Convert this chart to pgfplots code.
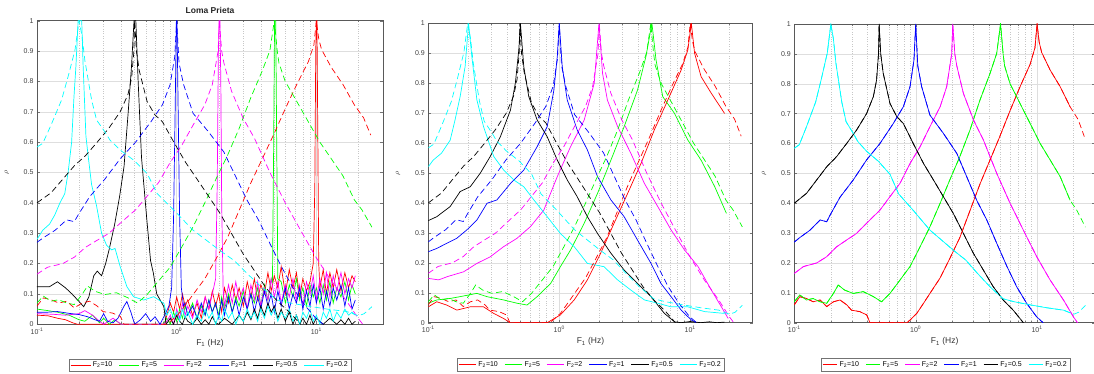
\documentclass[border=0pt]{standalone}
\usepackage{fontspec}
\setmainfont{Liberation Sans}
\usepackage{pgfplots}
\usepackage{pgfplotstable}
\pgfplotsset{compat=1.18}
\definecolor{mred}{rgb}{1,0,0}
\definecolor{mgreen}{rgb}{0,1,0}
\definecolor{mmag}{rgb}{1,0,1}
\definecolor{mblue}{rgb}{0,0,1}
\definecolor{mblack}{rgb}{0,0,0}
\definecolor{mcyan}{rgb}{0,1,1}

% ---------- shared dashed curves (d) ; s = solid of panel 3 ----------
\pgfplotstableread[row sep=\\]{F d s\\
0.100 0.060 0.060\\0.111 0.087 0.087\\0.126 0.081 0.081\\0.143 0.070 0.070\\0.163 0.076 0.076\\0.185 0.054 0.054\\0.210 0.070 0.070\\0.238 0.076 0.076\\0.270 0.060 0.060\\0.296 0.042 0.042\\0.347 0.037 0.037\\0.395 0.026 0.026\\0.420 0 0\\0.850 0 0\\0.898 0.009 0.009\\1.02 0.031 0.031\\1.16 0.065 0.065\\1.31 0.098 0.098\\1.59 0.150 0.150\\1.91 0.215 0.215\\2.31 0.285 0.285\\2.80 0.375 0.375\\3.39 0.465 0.465\\4.10 0.545 0.545\\4.95 0.625 0.625\\5.99 0.710 0.710\\7.24 0.790 0.790\\8.76 0.865 0.865\\9.60 0.920 0.920\\10.0 1.000 1.000\\10.4 0.940 0.940\\10.9 0.905 0.905\\12.8 0.846 0.846\\15.5 0.790 0.790\\18.7 0.723 0.723\\21.8 0.680 nan\\24.5 0.623 nan\\}\tabdashred
\pgfplotstableread[row sep=\\]{F d s\\
0.100 0.070 0.070\\0.111 0.093 0.093\\0.126 0.076 0.076\\0.143 0.081 0.081\\0.163 0.070 0.070\\0.185 0.065 0.065\\0.210 0.098 0.098\\0.230 0.126 0.126\\0.260 0.109 0.109\\0.306 0.098 0.098\\0.370 0.104 0.104\\0.449 0.087 0.087\\0.524 0.070 0.070\\0.614 0.098 0.098\\0.743 0.143 0.143\\0.898 0.188 0.188\\1.086 0.254 0.254\\1.31 0.321 0.321\\1.59 0.400 0.400\\1.91 0.478 0.478\\2.31 0.556 0.556\\2.80 0.645 0.645\\3.39 0.746 0.746\\4.10 0.835 0.835\\4.65 0.902 0.902\\5.00 1.000 1.000\\5.25 0.900 0.900\\5.40 0.860 0.860\\5.99 0.800 0.800\\7.24 0.734 0.734\\8.76 0.667 0.667\\10.6 0.600 0.600\\12.8 0.545 0.545\\15.5 0.489 0.489\\18.7 0.410 0.410\\21.2 0.377 nan\\25.0 0.320 nan\\}\tabdashgreen
\pgfplotstableread[row sep=\\]{F d\\
0.100 0.165\\0.119 0.188\\0.153 0.200\\0.185 0.221\\0.223 0.254\\0.270 0.277\\0.326 0.299\\0.420 0.344\\0.508 0.377\\0.614 0.422\\0.743 0.467\\0.898 0.533\\1.086 0.589\\1.31 0.656\\1.59 0.723\\1.80 0.790\\1.98 0.900\\2.02 1.000\\2.10 0.900\\2.18 0.860\\2.47 0.768\\2.99 0.679\\3.61 0.612\\4.65 0.500\\5.99 0.400\\7.71 0.310\\9.93 0.221\\12.8 0.143\\16.5 0.076\\19.9 0.020\\21.5 0.000\\}\tabdashmag
\pgfplotstableread[row sep=\\]{F d\\
0.100 0.270\\0.111 0.285\\0.135 0.310\\0.163 0.344\\0.185 0.338\\0.197 0.360\\0.238 0.420\\0.306 0.478\\0.394 0.545\\0.508 0.600\\0.654 0.667\\0.791 0.723\\0.898 0.790\\0.968 0.880\\1.000 1.000\\1.040 0.860\\1.12 0.790\\1.31 0.695\\1.69 0.634\\2.18 0.567\\2.63 0.489\\3.18 0.410\\3.85 0.344\\4.65 0.266\\5.62 0.190\\6.80 0.120\\8.20 0.065\\9.90 0.020\\11.2 0.000\\}\tabdashblue
\pgfplotstableread[row sep=\\]{F d\\
0.100 0.400\\0.126 0.433\\0.153 0.478\\0.185 0.522\\0.223 0.556\\0.270 0.600\\0.326 0.645\\0.394 0.700\\0.448 0.757\\0.476 0.812\\0.494 0.900\\0.500 1.000\\0.515 0.900\\0.540 0.835\\0.614 0.734\\0.698 0.690\\0.791 0.667\\0.954 0.600\\1.16 0.533\\1.40 0.478\\1.69 0.422\\2.04 0.366\\2.47 0.299\\2.99 0.232\\3.61 0.176\\4.36 0.120\\5.26 0.076\\6.35 0.042\\7.20 0.015\\7.70 0.000\\}\tabdashblack
\pgfplotstableread[row sep=\\]{F d s\\
0.100 0.584 0.584\\0.110 0.596 0.596\\0.126 0.656 0.656\\0.150 0.739 0.739\\0.167 0.816 0.816\\0.187 0.903 0.903\\0.200 1.000 1.000\\0.210 0.950 0.950\\0.220 0.870 0.870\\0.246 0.739 0.739\\0.267 0.673 0.673\\0.306 0.634 0.634\\0.333 0.607 0.607\\0.394 0.574 0.574\\0.491 0.541 0.541\\0.614 0.497 0.497\\0.724 0.431 0.431\\0.955 0.376 0.376\\1.31 0.310 0.310\\2.04 0.243 0.243\\2.58 0.210 0.210\\3.18 0.168 0.168\\4.10 0.120 0.120\\5.25 0.080 0.080\\6.50 0.070 0.070\\8.70 0.060 0.060\\12.0 0.050 0.050\\16.5 0.042 0.042\\19.0 0.032 0.032\\20.0 0.028 nan\\22.0 0.035 nan\\25.0 0.058 nan\\}\tabdashcyan

% ---------- panel 2 solid curves ----------
\pgfplotstableread[row sep=\\]{F y\\
0.1 0.053\\0.116 0.07\\0.138 0.059\\0.165 0.042\\0.209 0.053\\0.264 0.053\\0.316 0.031\\0.376 0.014\\0.411 0.003\\0.42 0\\0.809 0\\1.02 0.026\\1.30 0.076\\1.64 0.143\\2.07 0.232\\2.62 0.332\\3.33 0.432\\4.21 0.532\\5.32 0.644\\6.75 0.744\\8.53 0.844\\9.59 0.911\\10.2 1.0\\10.8 0.9\\12.1 0.822\\14.5 0.766\\18.3 0.699\\}\tabtwored
\pgfplotstableread[row sep=\\]{F y\\
0.1 0.065\\0.116 0.076\\0.147 0.081\\0.175 0.087\\0.235 0.098\\0.28 0.087\\0.376 0.076\\0.476 0.065\\0.568 0.059\\0.678 0.087\\0.859 0.131\\1.02 0.187\\1.22 0.243\\1.55 0.332\\1.96 0.432\\2.48 0.543\\3.13 0.655\\3.96 0.777\\4.59 0.889\\5.1 1.0\\5.48 0.878\\6.17 0.755\\7.59 0.699\\9.59 0.61\\12.1 0.543\\15.4 0.454\\18.9 0.365\\}\tabtwogreen
\pgfplotstableread[row sep=\\]{F y\\
0.1 0.148\\0.12 0.143\\0.14 0.154\\0.186 0.17\\0.235 0.198\\0.297 0.22\\0.376 0.254\\0.476 0.282\\0.603 0.321\\0.762 0.376\\0.966 0.488\\1.22 0.588\\1.55 0.677\\1.85 0.8\\2.01 1.0\\2.14 0.833\\2.33 0.744\\2.79 0.655\\3.52 0.566\\4.47 0.465\\5.65 0.388\\7.14 0.31\\9.05 0.243\\11.5 0.187\\14.5 0.109\\17.3 0.053\\19.5 0.014\\}\tabtwomag
\pgfplotstableread[row sep=\\]{F y\\
0.1 0.237\\0.116 0.248\\0.138 0.265\\0.165 0.282\\0.197 0.31\\0.235 0.343\\0.281 0.399\\0.334 0.41\\0.424 0.465\\0.536 0.51\\0.678 0.588\\0.809 0.655\\0.910 0.777\\0.966 0.889\\1.0 1.0\\1.054 0.855\\1.15 0.744\\1.37 0.644\\1.64 0.577\\1.96 0.488\\2.48 0.41\\3.13 0.354\\3.96 0.276\\5.02 0.198\\5.98 0.131\\7.14 0.087\\8.53 0.042\\10.2 0.009\\11.1 0\\}\tabtwoblue
\pgfplotstableread[row sep=\\]{F y\\
0.1 0.341\\0.116 0.354\\0.147 0.388\\0.175 0.438\\0.209 0.454\\0.249 0.499\\0.297 0.555\\0.355 0.621\\0.424 0.71\\0.462 0.80\\0.491 0.911\\0.505 1.0\\0.536 0.855\\0.585 0.755\\0.678 0.677\\0.809 0.621\\0.966 0.543\\1.15 0.477\\1.37 0.421\\1.64 0.354\\1.96 0.298\\2.48 0.232\\3.13 0.176\\3.96 0.131\\5.02 0.087\\6.35 0.031\\7.59 0.003\\8.5 0\\10 0.004\\12 0\\14 0.003\\16 0\\18.3 0.002\\}\tabtwoblack
\pgfplotstableread[row sep=\\]{F y\\
0.1 0.521\\0.109 0.543\\0.126 0.566\\0.147 0.61\\0.160 0.677\\0.175 0.755\\0.191 0.855\\0.203 1.0\\0.215 0.889\\0.235 0.744\\0.264 0.655\\0.316 0.555\\0.376 0.51\\0.449 0.477\\0.536 0.454\\0.64 0.41\\0.809 0.354\\1.02 0.298\\1.30 0.254\\1.64 0.198\\2.20 0.187\\2.79 0.143\\3.52 0.109\\4.47 0.076\\5.65 0.065\\7.14 0.053\\9.59 0.053\\12.9 0.037\\18.3 0.031\\}\tabtwocyan

% ---------- panel 1 solid curves ----------
\pgfplotstableread[row sep=\\]{F y\\
0.100 0.030\\0.120 0.028\\0.140 0.020\\0.160 0.015\\0.180 0.005\\0.195 0\\0.820 0\\0.850 0.030\\0.900 0.070\\0.950 0.040\\1.000 0.090\\1.050 0.050\\1.100 0.100\\1.150 0.060\\1.200 0.080\\1.300 0.030\\1.400 0.070\\1.500 0.020\\1.600 0.090\\1.700 0.050\\1.800 0.110\\1.900 0.060\\2.000 0.100\\2.100 0.040\\2.200 0.120\\2.350 0.070\\2.500 0.130\\2.650 0.080\\2.800 0.120\\3.000 0.060\\3.200 0.140\\3.400 0.090\\3.600 0.150\\3.800 0.080\\4.000 0.130\\4.250 0.100\\4.500 0.170\\4.750 0.110\\5.000 0.160\\5.300 0.120\\5.600 0.190\\6.000 0.100\\6.400 0.180\\6.800 0.120\\7.200 0.170\\7.600 0.090\\8.000 0.150\\8.500 0.110\\9.000 0.140\\9.500 0.200\\9.750 0.450\\9.900 0.900\\10.00 1.000\\10.10 1.000\\10.25 0.600\\10.40 0.200\\10.60 0.120\\11.20 0.180\\11.80 0.100\\12.50 0.170\\13.20 0.120\\14.00 0.180\\15.00 0.110\\16.00 0.170\\17.00 0.120\\18.00 0.160\\19.00 0.140\\}\tabonered
\pgfplotstableread[row sep=\\]{F y\\
0.100 0.050\\0.120 0.045\\0.140 0.040\\0.170 0.030\\0.200 0.015\\0.220 0.010\\0.250 0.030\\0.280 0.005\\0.300 0.020\\0.330 0\\0.360 0.015\\0.400 0\\0.800 0\\0.850 0.020\\0.900 0\\0.950 0.040\\1.000 0.010\\1.050 0.050\\1.100 0.020\\1.150 0.060\\1.200 0.030\\1.300 0.070\\1.400 0.020\\1.500 0.060\\1.600 0.030\\1.700 0.080\\1.800 0.040\\1.900 0.070\\2.000 0.030\\2.100 0.090\\2.200 0.050\\2.350 0.100\\2.500 0.040\\2.650 0.090\\2.800 0.060\\3.000 0.110\\3.200 0.050\\3.400 0.100\\3.600 0.070\\3.800 0.120\\4.000 0.060\\4.250 0.130\\4.500 0.080\\4.750 0.150\\4.850 0.140\\4.950 0.600\\5.020 1.000\\5.120 1.000\\5.200 0.600\\5.300 0.150\\5.600 0.140\\6.000 0.070\\6.400 0.130\\6.800 0.090\\7.200 0.150\\7.600 0.080\\8.000 0.120\\8.500 0.060\\9.000 0.130\\9.500 0.090\\10.00 0.120\\10.60 0.070\\11.20 0.130\\11.80 0.080\\12.50 0.140\\13.20 0.070\\14.00 0.120\\15.00 0.090\\16.00 0.140\\17.00 0.080\\18.00 0.130\\19.00 0.100\\}\tabonegreen
\pgfplotstableread[row sep=\\]{F y\\
0.100 0.035\\0.130 0.033\\0.160 0.030\\0.200 0.035\\0.220 0.045\\0.250 0.030\\0.280 0.010\\0.300 0\\0.350 0.020\\0.400 0\\0.800 0\\0.850 0.010\\0.900 0.030\\0.950 0\\1.000 0.050\\1.050 0.020\\1.100 0.070\\1.150 0.030\\1.200 0.060\\1.300 0.020\\1.400 0.080\\1.500 0.040\\1.600 0.090\\1.700 0.050\\1.800 0.100\\1.900 0.150\\1.950 0.450\\1.990 0.900\\2.010 1.000\\2.040 1.000\\2.070 0.800\\2.100 0.400\\2.150 0.120\\2.200 0.060\\2.350 0.130\\2.500 0.070\\2.650 0.140\\2.800 0.080\\3.000 0.120\\3.200 0.050\\3.400 0.130\\3.600 0.080\\3.800 0.140\\4.000 0.060\\4.250 0.120\\4.500 0.080\\4.750 0.150\\5.000 0.090\\5.300 0.140\\5.600 0.070\\6.000 0.130\\6.400 0.090\\6.800 0.150\\7.200 0.080\\7.600 0.130\\8.000 0.060\\8.500 0.140\\9.000 0.100\\9.500 0.160\\10.00 0.080\\10.60 0.150\\11.20 0.100\\11.80 0.170\\12.50 0.090\\13.20 0.160\\14.00 0.110\\15.00 0.170\\16.00 0.100\\17.00 0.150\\18.00 0.120\\19.00 0.160\\}\tabonemag
\pgfplotstableread[row sep=\\]{F y\\
0.100 0.040\\0.120 0.040\\0.140 0.042\\0.170 0.036\\0.200 0.032\\0.230 0.025\\0.260 0.015\\0.280 0.010\\0.300 0.035\\0.320 0.010\\0.350 0.005\\0.380 0.020\\0.420 0.060\\0.440 0.075\\0.470 0.040\\0.500 0\\0.550 0.015\\0.600 0.035\\0.650 0.010\\0.700 0.025\\0.760 0\\0.820 0.030\\0.880 0.060\\0.920 0.120\\0.950 0.350\\0.975 0.700\\0.995 1.000\\1.005 1.000\\1.025 0.700\\1.050 0.350\\1.080 0.120\\1.120 0.060\\1.150 0.070\\1.200 0.030\\1.300 0.060\\1.400 0.020\\1.500 0.070\\1.600 0.030\\1.700 0.080\\1.800 0.040\\1.900 0.070\\2.000 0.020\\2.100 0.080\\2.200 0.030\\2.350 0.090\\2.500 0.040\\2.650 0.080\\2.800 0.030\\3.000 0.090\\3.200 0.050\\3.400 0.100\\3.600 0.040\\3.800 0.090\\4.000 0.050\\4.250 0.110\\4.500 0.060\\4.750 0.100\\5.000 0.040\\5.300 0.110\\5.600 0.060\\6.000 0.120\\6.400 0.050\\6.800 0.100\\7.200 0.070\\7.600 0.120\\8.000 0.050\\8.500 0.110\\9.000 0.060\\9.500 0.130\\10.00 0.070\\10.60 0.120\\11.20 0.050\\11.80 0.110\\12.50 0.060\\13.20 0.120\\14.00 0.080\\15.00 0.130\\16.00 0.060\\17.00 0.120\\18.00 0.050\\19.00 0.080\\}\taboneblue
\pgfplotstableread[row sep=\\]{F y\\
0.100 0.124\\0.123 0.124\\0.140 0.140\\0.160 0.120\\0.178 0.100\\0.200 0.075\\0.216 0.058\\0.235 0.090\\0.255 0.160\\0.270 0.175\\0.290 0.160\\0.310 0.200\\0.330 0.250\\0.360 0.330\\0.390 0.420\\0.420 0.520\\0.450 0.700\\0.475 0.850\\0.495 1.000\\0.510 1.000\\0.530 0.800\\0.560 0.550\\0.610 0.350\\0.650 0.210\\0.680 0.170\\0.720 0.100\\0.810 0.058\\0.840 0\\0.900 0.020\\0.950 0\\1.000 0.030\\1.050 0.010\\1.100 0\\1.150 0.025\\1.200 0.010\\1.300 0\\1.400 0.020\\1.500 0\\1.600 0.015\\1.700 0\\1.800 0.025\\1.900 0.005\\2.000 0\\2.200 0.020\\2.500 0\\2.800 0.030\\3.000 0.010\\3.200 0.040\\3.400 0.015\\3.600 0.050\\3.800 0.020\\4.000 0.060\\4.250 0.030\\4.500 0.070\\4.750 0.040\\5.000 0.060\\5.300 0.020\\5.600 0.050\\6.000 0.010\\6.400 0.040\\6.800 0\\7.200 0.030\\7.600 0\\8.000 0.020\\8.500 0\\9.000 0.030\\9.500 0\\10.00 0.020\\11.20 0\\12.50 0.020\\14.00 0\\15.00 0.015\\16.00 0\\17.00 0.020\\18.00 0\\19.00 0.010\\}\taboneblack
\pgfplotstableread[row sep=\\]{F y\\
0.100 0.280\\0.110 0.310\\0.123 0.330\\0.134 0.360\\0.146 0.400\\0.158 0.430\\0.167 0.500\\0.177 0.600\\0.184 0.750\\0.190 0.850\\0.197 1.000\\0.209 1.000\\0.214 0.850\\0.224 0.620\\0.233 0.550\\0.246 0.460\\0.267 0.390\\0.290 0.300\\0.315 0.260\\0.343 0.245\\0.362 0.250\\0.394 0.190\\0.440 0.124\\0.491 0.091\\0.580 0.080\\0.685 0.091\\0.810 0.069\\0.850 0.030\\0.900 0.050\\0.950 0.020\\1.000 0.040\\1.050 0.010\\1.100 0.050\\1.150 0.020\\1.200 0.040\\1.300 0\\1.400 0.030\\1.500 0.010\\1.600 0.050\\1.700 0.020\\1.800 0.040\\1.900 0\\2.000 0.030\\2.100 0.010\\2.200 0.050\\2.350 0.020\\2.500 0.040\\2.650 0\\2.800 0.030\\3.000 0.010\\3.200 0.050\\3.400 0.020\\3.600 0.040\\3.800 0.010\\4.000 0.050\\4.250 0.020\\4.500 0.060\\4.750 0.030\\5.000 0.050\\5.300 0.010\\5.600 0.040\\6.000 0.020\\6.400 0.050\\6.800 0.010\\7.200 0.030\\7.600 0\\8.000 0.040\\8.500 0.020\\9.000 0.050\\9.500 0.010\\10.00 0.030\\10.60 0\\11.20 0.040\\11.80 0.020\\12.50 0.050\\13.20 0.010\\14.00 0.040\\15.00 0.020\\16.00 0.050\\17.00 0.030\\18.00 0.040\\19.00 0.030\\}\tabonecyan

\pgfplotsset{
  myax/.style={
    scale only axis, xmin=0.1, xmax=30, ymin=0, ymax=1,
    xtick={0.1,1,10},
    xticklabels={10\textsuperscript{-1},10\textsuperscript{0},10\textsuperscript{1}},
    minor xtick={0.2,0.3,0.4,0.5,0.6,0.7,0.8,0.9,2,3,4,5,6,7,8,9,20},
    ytick={0,0.1,0.2,0.3,0.4,0.5,0.6,0.7,0.8,0.9,1},
    tick label style={font=\fontsize{7}{8}\selectfont, text=black!75},
    xlabel={F\textsubscript{1} (Hz)},
    ylabel={$\rho$},
    xlabel style={font=\fontsize{8.5}{10}\selectfont, text=black!80, yshift=2pt},
    ylabel style={font=\fontsize{7.5}{9}\selectfont, text=black!80, yshift=8pt},
    title style={font=\bfseries\fontsize{8.5}{10}\selectfont, text=black!85, yshift=-2pt},
    xmajorgrids, xminorgrids, ymajorgrids,
    major grid style={black!13, line width=0.4pt},
    minor grid style={black!22, dotted, line width=0.35pt},
    axis line style={black!65, line width=0.5pt},
    tick style={black!55, line width=0.35pt},
    major tick length=3pt, minor tick length=1.8pt,
    tick align=inside,
    legend columns=6,
    legend style={font=\fontsize{7}{8}\selectfont, draw=black!55, line width=0.4pt,
      inner sep=1pt, anchor=center, cells={anchor=west},
      /tikz/every even column/.append style={column sep=4.5pt}},
    every axis plot/.append style={line width=0.7pt},
  },
  legA/.style={legend image code/.code={\draw[##1] (0pt,0pt) -- (20pt,0pt);}},
  legB/.style={legend image code/.code={\draw[##1] (0pt,0pt) -- (17.5pt,0pt);}},
  legC/.style={legend image code/.code={\draw[##1] (0pt,0pt) -- (14.5pt,0pt);}},
  dsh/.style={dash pattern=on 6pt off 3.5pt, forget plot},
  sld/.style={forget plot},
}
\pgfkeys{/pgf/number format/assume math mode=true}

\begin{document}
\begin{tikzpicture}
\path[use as bounding box] (0,0) rectangle (1094pt,374pt);

% ================= Panel 1 =================
\begin{semilogxaxis}[myax, legA, at={(37pt,49.7pt)}, anchor=south west,
  width=346pt, height=303.6pt, title={Loma Prieta},
  legend style={at={(0.5,-0.134)}}]
\addlegendimage{mred, line width=0.7pt}
\addlegendimage{mgreen, line width=0.7pt}
\addlegendimage{mmag, line width=0.7pt}
\addlegendimage{mblue, line width=0.7pt}
\addlegendimage{mblack, line width=0.7pt}
\addlegendimage{mcyan, line width=0.7pt}
\addplot[mred,sld] table[x=F,y=y] {\tabonered};
\addplot[mgreen,sld] table[x=F,y=y] {\tabonegreen};
\addplot[mmag,sld] table[x=F,y=y] {\tabonemag};
\addplot[mblue,sld] table[x=F,y=y] {\taboneblue};
\addplot[mblack,sld] table[x=F,y=y] {\taboneblack};
\addplot[mcyan,sld] table[x=F,y=y] {\tabonecyan};
\addplot[mred,dsh] table[x=F,y=d] {\tabdashred};
\addplot[mgreen,dsh] table[x=F,y=d] {\tabdashgreen};
\addplot[mmag,dsh] table[x=F,y=d] {\tabdashmag};
\addplot[mblue,dsh] table[x=F,y=d] {\tabdashblue};
\addplot[mblack,dsh] table[x=F,y=d] {\tabdashblack};
\addplot[mcyan,dsh] table[x=F,y=d] {\tabdashcyan};
\legend{F\textsubscript{2}=10,F\textsubscript{2}=5,F\textsubscript{2}=2,F\textsubscript{2}=1,F\textsubscript{2}=0.5,F\textsubscript{2}=0.2}
\end{semilogxaxis}

% ================= Panel 2 =================
\begin{semilogxaxis}[myax, legB, at={(428.3pt,51.3pt)}, anchor=south west,
  width=324.4pt, height=299.4pt,
  legend style={at={(0.5,-0.14)}}]
\addlegendimage{mred, line width=0.7pt}
\addlegendimage{mgreen, line width=0.7pt}
\addlegendimage{mmag, line width=0.7pt}
\addlegendimage{mblue, line width=0.7pt}
\addlegendimage{mblack, line width=0.7pt}
\addlegendimage{mcyan, line width=0.7pt}
\addplot[mred,sld] table[x=F,y=y] {\tabtwored};
\addplot[mgreen,sld] table[x=F,y=y] {\tabtwogreen};
\addplot[mmag,sld] table[x=F,y=y] {\tabtwomag};
\addplot[mblue,sld] table[x=F,y=y] {\tabtwoblue};
\addplot[mblack,sld] table[x=F,y=y] {\tabtwoblack};
\addplot[mcyan,sld] table[x=F,y=y] {\tabtwocyan};
\addplot[mred,dsh] table[x=F,y=d] {\tabdashred};
\addplot[mgreen,dsh] table[x=F,y=d] {\tabdashgreen};
\addplot[mmag,dsh] table[x=F,y=d] {\tabdashmag};
\addplot[mblue,dsh] table[x=F,y=d] {\tabdashblue};
\addplot[mblack,dsh] table[x=F,y=d] {\tabdashblack};
\addplot[mcyan,dsh] table[x=F,y=d] {\tabdashcyan};
\legend{F\textsubscript{2}=10,F\textsubscript{2}=5,F\textsubscript{2}=2,F\textsubscript{2}=1,F\textsubscript{2}=0.5,F\textsubscript{2}=0.2}
\end{semilogxaxis}

% ================= Panel 3 =================
\begin{semilogxaxis}[myax, legC, at={(794.3pt,51.3pt)}, anchor=south west,
  width=300.7pt, height=298.7pt,
  legend style={at={(0.503,-0.14)}}]
\addlegendimage{mred, line width=0.7pt}
\addlegendimage{mgreen, line width=0.7pt}
\addlegendimage{mmag, line width=0.7pt}
\addlegendimage{mblue, line width=0.7pt}
\addlegendimage{mblack, line width=0.7pt}
\addlegendimage{mcyan, line width=0.7pt}
\addplot[mred,sld] table[x=F,y=s] {\tabdashred};
\addplot[mgreen,sld] table[x=F,y=s] {\tabdashgreen};
\addplot[mmag,sld] table[x=F,y=d] {\tabdashmag};
\addplot[mblue,sld] table[x=F,y=d] {\tabdashblue};
\addplot[mblack,sld] table[x=F,y=d] {\tabdashblack};
\addplot[mcyan,sld] table[x=F,y=s] {\tabdashcyan};
\addplot[mred,dsh] table[x=F,y=d] {\tabdashred};
\addplot[mgreen,dsh] table[x=F,y=d] {\tabdashgreen};
\addplot[mmag,dsh] table[x=F,y=d] {\tabdashmag};
\addplot[mblue,dsh] table[x=F,y=d] {\tabdashblue};
\addplot[mblack,dsh] table[x=F,y=d] {\tabdashblack};
\addplot[mcyan,dsh] table[x=F,y=d] {\tabdashcyan};
\legend{F\textsubscript{2}=10,F\textsubscript{2}=5,F\textsubscript{2}=2,F\textsubscript{2}=1,F\textsubscript{2}=0.5,F\textsubscript{2}=0.2}
\end{semilogxaxis}
\end{tikzpicture}
\end{document}
